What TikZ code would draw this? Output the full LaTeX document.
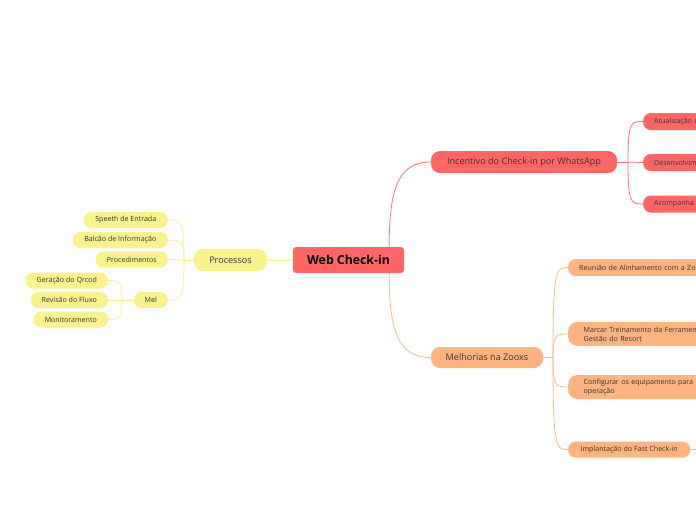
\documentclass[tikz,border=0pt]{standalone}
\usepackage{fontspec}
\setmainfont{Open Sans}
\definecolor{cred}{HTML}{FF6666}
\definecolor{cpeach}{HTML}{FFB380}
\definecolor{cyel}{HTML}{FAF28C}
\definecolor{lred}{HTML}{FF6F6F}
\definecolor{lpeach}{HTML}{FFB688}
\definecolor{lyel}{HTML}{F8EE96}
\definecolor{txt}{HTML}{333333}
\tikzset{
  central/.style={fill=cred, rounded corners=3pt, minimum width=111pt, minimum height=26pt, inner sep=0pt, text=black, font=\fontsize{12.3}{14}\selectfont\bfseries},
  mainbox/.style={rounded corners=9pt, minimum height=22pt, inner sep=0pt, text=txt, font=\fontsize{9.1}{11}\selectfont},
  leaf/.style={rounded corners=7.5pt, minimum height=16pt, inner ysep=0pt, inner xsep=11pt, text=txt, font=\fontsize{7.1}{8.8}\selectfont},
  leafcut/.style={leaf, text width=170pt, align=left},
  cR/.style={draw=lred, line width=0.8pt},
  cP/.style={draw=lpeach, line width=0.8pt},
  cY/.style={draw=lyel, line width=0.8pt},
}
\begin{document}
\begin{tikzpicture}[x=1pt,y=-1pt]
\useasboundingbox (0,0) rectangle (696,520);
\fill[white] (0,0) rectangle (696,520);
\clip (0,0) rectangle (696,520);

% main nodes
\node[central] (root) at (348.5,260) {Web Check-in};
\node[mainbox, fill=cred, minimum width=186pt] (inc) at (524,162) {Incentivo do Check-in por WhatsApp};
\node[mainbox, fill=cpeach, minimum width=112pt, minimum height=21pt] (melh) at (487,357.5) {Melhorias na Zooxs};
\node[mainbox, fill=cyel, minimum width=73pt] (proc) at (230.5,260) {Processos};

% Incentivo children
\node[leafcut, fill=cred, anchor=west, minimum height=17pt] (a1) at (643,121.5) {Atualização d};
\node[leafcut, fill=cred, anchor=west, minimum height=17pt] (a2) at (643,162.5) {Desenvolvim};
\node[leafcut, fill=cred, anchor=west, minimum height=17pt] (a3) at (643,204) {Acompanha};

% Melhorias children
\node[leafcut, fill=cpeach, anchor=west, minimum height=17pt] (r1) at (568,267.5) {Reunião de Alinhamento com a Zoo};
\node[leafcut, fill=cpeach, anchor=west, minimum height=24pt, rounded corners=9pt, inner xsep=15.5pt] (r2) at (568,334) {Marcar Treinamento da Ferramen\\Gestão do Resort};
\node[leafcut, fill=cpeach, anchor=west, minimum height=24pt, rounded corners=9pt, inner xsep=15.5pt] (r3) at (568,387) {Configurar os equipamento para\\operação};
\node[leaf, fill=cpeach, anchor=west, minimum width=122pt, inner xsep=0pt] (r4) at (568,449.5) {Implantação do Fast Check-in};
\coordinate (r4out) at (700,449.5);

% Processos children
\node[leaf, fill=cyel, anchor=east, minimum width=84pt, inner xsep=0pt] (p1) at (168,220) {Speeth de Entrada};
\node[leaf, fill=cyel, anchor=east, minimum width=95pt, inner xsep=0pt] (p2) at (168,240) {Balcão de Informação};
\node[leaf, fill=cyel, anchor=east, minimum width=72pt, inner xsep=0pt] (p3) at (168,259.5) {Procedimentos};
\node[leaf, fill=cyel, anchor=east, minimum width=34pt, inner xsep=0pt] (melnode) at (168,300) {Mel};

% Mel children
\node[leaf, fill=cyel, anchor=east, minimum width=82pt, inner xsep=0pt] (m1) at (108,280.5) {Geração do Qrcod};
\node[leaf, fill=cyel, anchor=east, minimum width=77pt, inner xsep=0pt] (m2) at (108,300) {Revisão do Fluxo};
\node[leaf, fill=cyel, anchor=east, minimum width=74pt, inner xsep=0pt] (m3) at (108,319.5) {Monitoramento};

% junctions
\coordinate (jI) at (628,162);
\coordinate (jM) at (553,357.5);
\coordinate (jP) at (184,260);
\coordinate (jMel) at (122,300);

% root connectors
\draw[cR] ([xshift=-15pt]root.north east) .. controls (389,185) and (400,162) .. (inc.west);
\draw[cP] ([xshift=-15pt]root.south east) .. controls (389,335) and (400,357.5) .. (melh.west);
\draw[cY] (root.west) -- (proc.east);

% Incentivo connectors
\draw[cR] (inc.east) -- (jI);
\draw[cR] (jI) .. controls (628,121.5) and (631,121.5) .. (a1.west);
\draw[cR] (jI) -- (a2.west);
\draw[cR] (jI) .. controls (628,204) and (631,204) .. (a3.west);

% Melhorias connectors
\draw[cP] (melh.east) -- (jM);
\draw[cP] (jM) .. controls (553,267.5) and (556,267.5) .. (r1.west);
\draw[cP] (jM) .. controls (553,334) and (556,334) .. (r2.west);
\draw[cP] (jM) .. controls (553,387) and (556,387) .. (r3.west);
\draw[cP] (jM) .. controls (553,449.5) and (556,449.5) .. (r4.west);
\draw[cP] (r4.east) -- (r4out);

% Processos connectors
\draw[cY] (proc.west) -- (jP);
\draw[cY] (jP) .. controls (184,220) and (181,220) .. (p1.east);
\draw[cY] (jP) .. controls (184,240) and (181,240) .. (p2.east);
\draw[cY] (jP) -- (p3.east);
\draw[cY] (jP) .. controls (184,300) and (181,300) .. (melnode.east);

% Mel connectors
\draw[cY] (melnode.west) -- (jMel);
\draw[cY] (jMel) .. controls (122,280.5) and (119,280.5) .. (m1.east);
\draw[cY] (jMel) -- (m2.east);
\draw[cY] (jMel) .. controls (122,319.5) and (119,319.5) .. (m3.east);
\end{tikzpicture}
\end{document}
